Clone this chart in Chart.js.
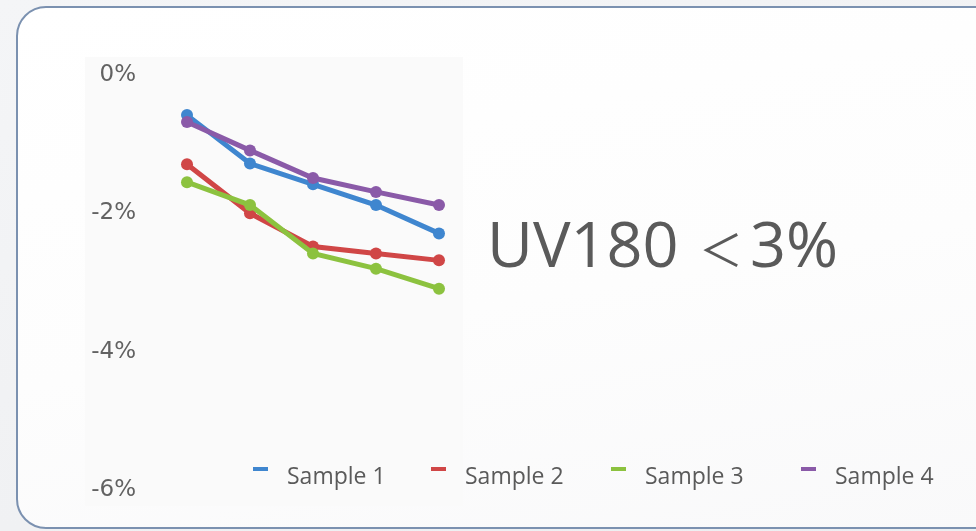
<!DOCTYPE html>
<html>
<head>
<meta charset="utf-8">
<script src="https://cdn.jsdelivr.net/npm/chart.js@4"></script>
<style>
  html, body { margin: 0; padding: 0; }
  body {
    width: 976px; height: 531px; overflow: hidden; position: relative;
    background: linear-gradient(160deg, #f4f5f7 0%, #f0f1f3 60%, #eceef1 100%);
  }
  #frame {
    position: absolute; left: 16px; top: 6px; width: 990px; height: 519px;
    border: 2.5px solid #7b91b0; border-radius: 30px;
    background: linear-gradient(170deg, #ffffff 0%, #fdfdfd 55%, #f9f9fa 100%);
  }
  #panel {
    position: absolute; left: 85px; top: 57px; width: 378px; height: 449px;
    background: #fafafa;
  }
  canvas { position: absolute; left: 0; top: 0; }
</style>
</head>
<body>
<div id="frame"></div>
<div id="panel"></div>
<canvas id="chart" width="976" height="531"></canvas>
<script>
// Measurement points along the test run
const categories = ['T1', 'T2', 'T3', 'T4', 'T5'];

// Change (%) per sample
const sample1 = [-0.58, -1.28, -1.58, -1.88, -2.29];
const sample2 = [-1.29, -2.00, -2.48, -2.58, -2.68];
const sample3 = [-1.55, -1.88, -2.58, -2.80, -3.09];
const sample4 = [-0.68, -1.09, -1.49, -1.69, -1.88];

const seriesNames = ['Sample 1', 'Sample 2', 'Sample 3', 'Sample 4'];
const seriesColors = ['#3f86cf', '#d04646', '#8cc23f', '#8a5aa8'];

// Y axis range and tick step (percent)
const yMin = -6;
const yMax = 0;
const yStep = 2;

// Headline: label, comparison sign, limit
const headlineParts = ['UV180', '\uFF1C', '3%'];

const seriesValues = [sample1, sample2, sample3, sample4];
// later series are painted over earlier ones
const drawOrder = [4, 3, 2, 1];

const datasets = seriesValues.map((vals, i) => ({
  label: seriesNames[i],
  data: vals,
  borderColor: seriesColors[i],
  backgroundColor: seriesColors[i],
  pointBackgroundColor: seriesColors[i],
  pointBorderColor: seriesColors[i],
  borderWidth: 5,
  pointRadius: 6,
  pointBorderWidth: 0,
  tension: 0,
  order: drawOrder[i]
}));

// Legend row along the bottom and the headline text
const decorations = {
  id: 'decorations',
  afterDraw(chart) {
    const ctx = chart.ctx;
    ctx.save();
    ctx.fillStyle = '#5a5a5a';
    ctx.textBaseline = 'alphabetic';

    // headline
    ctx.textAlign = 'left';
    ctx.font = '63px "Open Sans", sans-serif';
    ctx.fillText(headlineParts[0], 487, 267);
    ctx.textAlign = 'center';
    ctx.font = '44px "Noto Sans CJK SC", sans-serif';
    ctx.fillText(headlineParts[1], 721, 267);
    ctx.textAlign = 'left';
    ctx.font = '63px "Open Sans", sans-serif';
    ctx.fillText(headlineParts[2], 750, 267);

    // legend
    const textX = [287, 465, 645, 835];
    ctx.font = '23px "Open Sans", sans-serif';
    chart.data.datasets.forEach((ds, i) => {
      ctx.fillStyle = ds.borderColor;
      ctx.fillRect(textX[i] - 34, 467, 15, 4);
      ctx.fillStyle = '#5a5a5a';
      ctx.fillText(ds.label, textX[i], 484);
    });
    ctx.restore();
  }
};

new Chart(document.getElementById('chart'), {
  type: 'line',
  data: { labels: categories, datasets },
  options: {
    responsive: false,
    animation: false,
    layout: { padding: { top: 75, bottom: 41, left: 0, right: 505.5 } },
    plugins: {
      legend: { display: false },
      tooltip: { enabled: false },
      title: { display: false }
    },
    scales: {
      x: {
        type: 'category',
        offset: true,
        display: false
      },
      y: {
        min: yMin,
        max: yMax,
        grid: { display: false, drawTicks: false },
        border: { display: false },
        afterFit(scale) { scale.width = 155.5; },
        ticks: {
          stepSize: yStep,
          padding: 19.5,
          color: '#626262',
          font: { family: '"DejaVu Sans", sans-serif', size: 23 },
          callback: (v) => v + '%'
        }
      }
    }
  },
  plugins: [decorations]
});
</script>
</body>
</html>
